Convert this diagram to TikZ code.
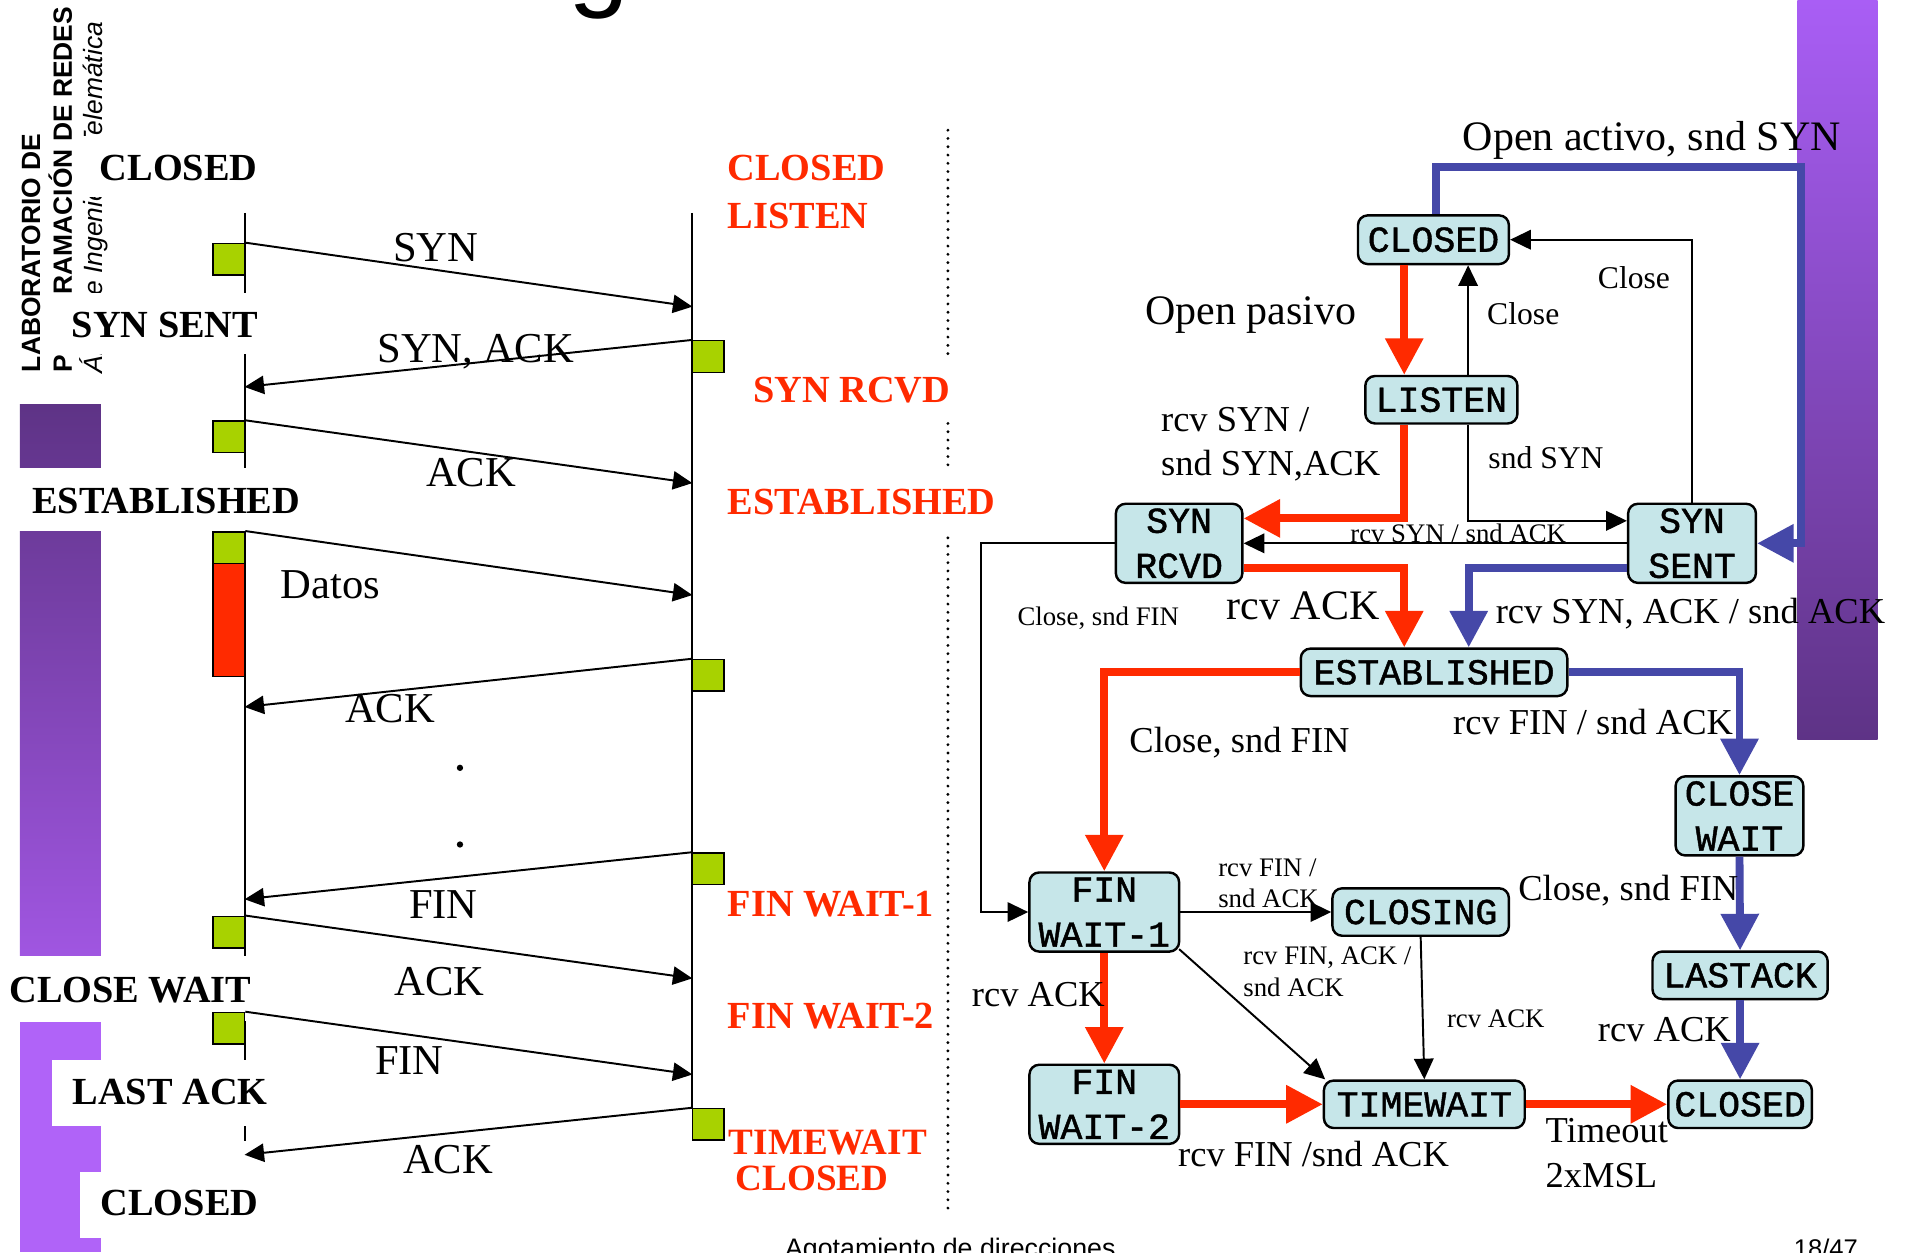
\documentclass[tikz,border=0pt]{standalone}
\usepackage{fontspec}
\setmainfont{Liberation Serif}
\newfontfamily\monofnt[FakeBold=1.2]{Liberation Mono}
\newfontfamily\sansfnt{Liberation Sans}
\usetikzlibrary{arrows.meta}

\definecolor{tcpred}{RGB}{255,42,0}
\definecolor{tcpblue}{RGB}{69,72,168}
\definecolor{statefill}{RGB}{198,230,233}
\definecolor{seggreen}{RGB}{168,210,0}
\definecolor{purpleA}{RGB}{94,51,134}
\definecolor{purpleB}{RGB}{160,86,225}
\definecolor{purpleC}{RGB}{176,99,248}
\definecolor{purpleD}{RGB}{169,94,245}

\begin{document}
\begin{tikzpicture}[x=1pt,y=-1pt,
  tcpstate/.style={draw=black, line width=2pt, rounded corners=8pt, fill=statefill,
    inner sep=0pt, align=center, font=\monofnt\fontsize{30}{37}\selectfont},
  phase/.style={anchor=base west, inner sep=0pt, outer sep=0pt, font=\bfseries\fontsize{31.5}{36}\selectfont},
  phasecover/.style={phase, fill=white, text height=22pt, text depth=0pt},
  redphase/.style={phase, text=tcpred},
  msglbl/.style={anchor=base west, inner sep=0pt, font=\fontsize{35}{40}\selectfont},
  lblL/.style={anchor=base west, inner sep=0pt, font=\fontsize{34.5}{40}\selectfont},
  lblM/.style={anchor=base west, inner sep=0pt, font=\fontsize{30}{36}\selectfont},
  lblS/.style={anchor=base west, inner sep=0pt, font=\fontsize{26}{30}\selectfont},
  lblXS/.style={anchor=base west, inner sep=0pt, font=\fontsize{22}{26}\selectfont},
  msg/.style={draw=black, line width=1.6pt, -{Triangle[length=16pt,width=15pt]}},
  thinarr/.style={draw=black, line width=1.6pt, -{Triangle[length=17pt,width=16pt]}},
  redarr/.style={draw=tcpred, line width=6.5pt, -{Triangle[length=30pt,width=30pt]}},
  bluearr/.style={draw=tcpblue, line width=6.5pt, -{Triangle[length=30pt,width=30pt]}},
  lifeline/.style={draw=black, line width=1.6pt},
  greensq/.style={draw=black, line width=1.2pt, fill=seggreen, minimum width=26pt, minimum height=26pt, inner sep=0pt},
  datablk/.style={draw=black, line width=1.2pt, fill=tcpred, minimum width=26pt, minimum height=93pt, inner sep=0pt},
  dotline/.style={draw=black, line width=2.6pt, line cap=round, dash pattern=on 0pt off 6.8pt},
  hdr/.style={rotate=90, anchor=base west, inner sep=0pt, font=\sansfnt\bfseries\fontsize{21.7}{26}\selectfont},
]
\useasboundingbox (0,0) rectangle (1568,1029);
\clip (0,0) rectangle (1568,1029);
\fill[white] (0,0) rectangle (1568,1029);

% purple side bars of the slide
\shade[top color=purpleA, bottom color=purpleB] (16.4,332) rectangle (83,786);
\fill[purpleC] (16.4,840) rectangle (83,1029);
\shade[top color=purpleD, bottom color=purpleA] (1477,0) rectangle (1543,608);

% slide header (vertical) and title fragment
\node[hdr] (hdrLab) at (33,306) {LABORATORIO DE};
\node[hdr] (hdrProg) at (59,306) {PROGRAMACIÓN DE REDES};
\node[hdr, font=\sansfnt\itshape\fontsize{21.7}{26}\selectfont] (hdrArea) at (84,307) {Área de Ingeniería Telemática};
\node[anchor=base west, inner sep=0pt, font=\sansfnt\fontsize{90}{90}\selectfont] (ttl) at (467,-3) {g};

% footer
\node[anchor=base west, inner sep=0pt, font=\sansfnt\fontsize{22}{26}\selectfont] (ftrA) at (645,1033) {Agotamiento de direcciones};
\node[anchor=base west, inner sep=0pt, font=\sansfnt\fontsize{21}{26}\selectfont] (ftrB) at (1474,1033) {18/47};

% ---------- sequence diagram ----------
\coordinate (cliTop) at (201,175); \coordinate (cliBot) at (201,938);
\coordinate (srvTop) at (569,175); \coordinate (srvBot) at (569,911);
\draw[lifeline] (cliTop) -- (cliBot);
\draw[lifeline] (srvTop) -- (srvBot);

% client states (white backing hides what lies beneath)
\node[phasecover, inner xsep=18pt, inner ysep=14pt] (cClosed) at (64,148) {CLOSED};
\node[phasecover, inner xsep=16pt, inner ysep=14pt] (cSynSent) at (43,277) {SYN SENT};
\node[phasecover, inner xsep=12pt, inner ysep=15pt] (cEstab) at (14.6,421.6) {ESTABLISHED};
\node[phasecover, inner xsep=6pt, inner ysep=15.5pt] (cCloseWait) at (1.7,823.5) {CLOSE WAIT};
\node[phasecover, inner xsep=16.7pt, inner ysep=15pt, text depth=2pt] (cLastAck) at (43,908) {LAST ACK};
\node[phasecover, inner xsep=16.7pt, inner ysep=14pt, text depth=4pt] (cClosedB) at (66,999) {CLOSED};

% server states
\node[redphase] (rClosed) at (598,148) {CLOSED};
\node[redphase] (rListen) at (598,187.5) {LISTEN};
\node[redphase] (rSynRcvd) at (619,331) {SYN RCVD};
\node[redphase] (rEstab) at (598,423) {ESTABLISHED};
\node[redphase] (rFinWait1) at (598,753.5) {FIN WAIT-1};
\node[redphase] (rFinWait2) at (598,845) {FIN WAIT-2};
\node[redphase, font=\bfseries\fontsize{30.5}{36}\selectfont] (rTimeWait) at (599,949) {TIMEWAIT};
\node[redphase, font=\bfseries\fontsize{30.5}{36}\selectfont] (rClosedB) at (604.6,978) {CLOSED};

% separator
\draw[dotline] (779,107) -- (779,294);
\draw[dotline] (779,348) -- (779,384);
\draw[dotline] (779,442) -- (779,998);

% segments
\node[greensq] (gA) at (188,213) {};
\node[greensq] (gB) at (188,359) {};
\node[greensq] (gC) at (188,450) {};
\node[datablk] (dBlk) at (188,509.5) {};
\node[greensq] (gD) at (188,766) {};
\node[greensq] (gE) at (188,845) {};
\node[greensq] (hA) at (582,293) {};
\node[greensq] (hB) at (582,555) {};
\node[greensq] (hC) at (582,714) {};
\node[greensq] (hD) at (582,924) {};

\coordinate (aSyn) at (569,252);
\coordinate (aSynAck) at (201,318);
\coordinate (aAck1) at (569,397);
\coordinate (aDatos) at (569,489);
\coordinate (aAck2) at (201,581);
\coordinate (aFin1) at (201,739);
\coordinate (aAck3) at (569,804);
\coordinate (aFin2) at (569,883);
\coordinate (aAck4) at (201,949);

\draw[msg] (gA.north east) -- (aSyn);
\draw[msg] (hA.north west) -- (aSynAck);
\draw[msg] (gB.north east) -- (aAck1);
\draw[msg] (gC.north east) -- (aDatos);
\draw[msg] (hB.north west) -- (aAck2);
\draw[msg] (hC.north west) -- (aFin1);
\draw[msg] (gD.north east) -- (aAck3);
\draw[msg] (gE.north east) -- (aFin2);
\draw[msg] (hD.north west) -- (aAck4);

\node[msglbl] (mSyn) at (323,215) {SYN};
\node[msglbl] (mSynAck) at (310,297.5) {SYN, ACK};
\node[msglbl] (mAck1) at (350,400) {ACK};
\node[msglbl] (mDatos) at (230.6,491.5) {Datos};
\node[msglbl] (mAck2) at (283.5,594) {ACK};
\fill (378,631) circle (2.6pt);
\fill (378,694) circle (2.6pt);
\node[msglbl] (mFin1) at (336,754.7) {FIN};
\node[msglbl] (mAck3) at (324,817.7) {ACK};
\node[msglbl] (mFin2) at (308,883) {FIN};
\node[msglbl] (mAck4) at (331,964) {ACK};

% ---------- state machine ----------
\node[tcpstate, minimum width=124pt, minimum height=40pt] (sClosed) at (1178,197) {CLOSED};
\node[tcpstate, minimum width=125pt, minimum height=39pt] (sListen) at (1184.5,328.5) {LISTEN};
\node[tcpstate, minimum width=104pt, minimum height=65pt] (sSynRcvd) at (969,446.5) {SYN\\RCVD};
\node[tcpstate, minimum width=105pt, minimum height=65pt] (sSynSent) at (1390.5,446.5) {SYN\\SENT};
\node[tcpstate, minimum width=219pt, minimum height=39pt] (sEstab) at (1178.5,552.5) {ESTABLISHED};
\node[tcpstate, minimum width=105pt, minimum height=65pt] (sCloseWait) at (1429.5,670.5) {CLOSE\\WAIT};
\node[tcpstate, minimum width=123pt, minimum height=65pt] (sFinWait1) at (907.5,749.5) {FIN\\WAIT-1};
\node[tcpstate, minimum width=145pt, minimum height=39pt] (sClosing) at (1167.5,749.5) {CLOSING};
\node[tcpstate, minimum width=144pt, minimum height=39pt] (sLastAck) at (1430,801.5) {LASTACK};
\node[tcpstate, minimum width=123pt, minimum height=65pt] (sFinWait2) at (907.5,907.5) {FIN\\WAIT-2};
\node[tcpstate, minimum width=165pt, minimum height=39pt] (sTimeWait) at (1170.5,907.5) {TIMEWAIT};
\node[tcpstate, minimum width=118pt, minimum height=39pt] (sClosedB) at (1430,907.5) {CLOSED};

\coordinate (cOpenAct) at (1480,137);
\draw[bluearr] ([xshift=2pt]sClosed.north) |- (cOpenAct) |- (sSynSent.east);
\draw[redarr] ([xshift=-24pt]sClosed.south) -- ([xshift=-24pt]sClosed.south |- sListen.north);
\draw[thinarr] ([xshift=22pt]sListen.north) -- ([xshift=22pt]sListen.north |- sClosed.south);
\draw[thinarr] (sSynSent.north) |- (sClosed.east);
\draw[redarr] ([xshift=-30.5pt]sListen.south) |- ([yshift=20.5pt]sSynRcvd.east);
\draw[thinarr] ([xshift=22pt]sListen.south) |- ([yshift=18.5pt]sSynSent.west);
\draw[thinarr] (sSynSent.west) -- (sSynRcvd.east);
\draw[redarr] ([yshift=-20pt]sSynRcvd.east) -| ([xshift=-24.5pt]sEstab.north);
\draw[bluearr] ([yshift=-20pt]sSynSent.west) -| ([xshift=28.5pt]sEstab.north);
\coordinate (cLeft) at (806,749.5);
\draw[thinarr] (sSynRcvd.west) -| (cLeft) -- (sFinWait1.west);
\draw[redarr] (sEstab.west) -| (sFinWait1.north);
\draw[bluearr] (sEstab.east) -| (sCloseWait.north);
\draw[thinarr] (sFinWait1.east) -- (sClosing.west);
\draw[redarr] (sFinWait1.south) -- (sFinWait2.north);
\draw[thinarr] ([xshift=-1pt,yshift=3pt]sFinWait1.south east) -- ([xshift=2pt]sTimeWait.north west);
\draw[thinarr] (sClosing.south) -- (sTimeWait.north);
\draw[bluearr] (sCloseWait.south) -- (sLastAck.north);
\draw[bluearr] (sLastAck.south) -- (sClosedB.north);
\draw[redarr] (sFinWait2.east) -- (sTimeWait.west);
\draw[redarr] (sTimeWait.east) -- (sClosedB.west);

% transition labels
\node[lblL] (lOpenAct) at (1202,123.5) {Open activo, snd SYN};
\node[lblL] (lOpenPas) at (941,267) {Open pasivo};
\node[lblS] (lClose1) at (1222,267) {Close};
\node[lblS] (lClose2) at (1313,237) {Close};
\node[lblM] (lRcvSyn) at (954,355) {rcv SYN /};
\node[lblM] (lSndSynAck) at (954,390.5) {snd SYN,ACK};
\node[lblS] (lSndSyn) at (1223,385) {snd SYN};
\node[lblXS] (lRcvSynSnd) at (1109.5,446) {rcv SYN / snd ACK};
\node[lblXS] (lCloseFinS) at (836,514) {Close, snd FIN};
\node[lblL] (lRcvAckA) at (1008,509.5) {rcv ACK};
\node[lblM] (lRcvSynAck) at (1229,512) {rcv SYN, ACK / snd ACK};
\node[lblM] (lCloseFinM) at (928,618) {Close, snd FIN};
\node[lblM] (lRcvFin) at (1194,604) {rcv FIN / snd ACK};
\node[lblXS] (lRcvFinS) at (1001,720.5) {rcv FIN /};
\node[lblXS] (lSndAckS) at (1001,746) {snd ACK};
\node[lblM] (lCloseFinR) at (1247.5,740) {Close, snd FIN};
\node[lblXS] (lRcvFinAck) at (1021.6,793) {rcv FIN, ACK /};
\node[lblXS] (lSndAck2) at (1021.6,819) {snd ACK};
\node[lblM] (lRcvAckL) at (798.5,827.5) {rcv ACK};
\node[lblXS] (lRcvAckS) at (1189,844) {rcv ACK};
\node[lblM] (lRcvAckR) at (1313,856) {rcv ACK};
\node[lblM] (lRcvFinSnd) at (968,959) {rcv FIN /snd ACK};
\node[lblM] (lTimeout) at (1270,938.5) {Timeout};
\node[lblM] (l2msl) at (1270,975.5) {2xMSL};
\end{tikzpicture}
\end{document}
